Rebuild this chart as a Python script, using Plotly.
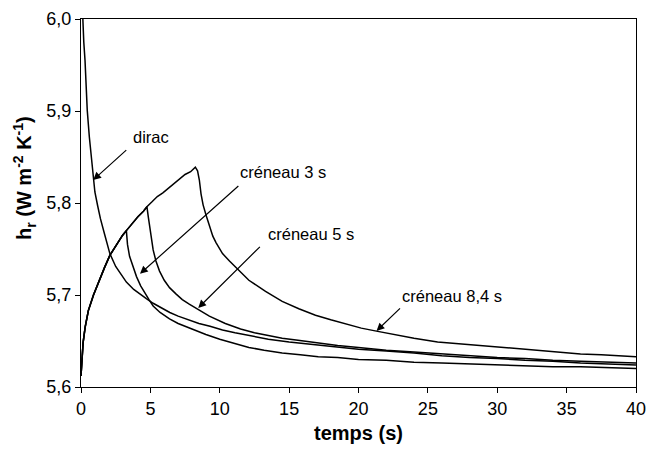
import plotly.graph_objects as go

# Shared heating ramp of the square pulses (time s, h_r W m-2 K-1)
RISE_T = [0.0, 0.05, 0.15, 0.3, 0.53, 0.9, 1.3, 1.7, 2.08, 2.6, 3.0, 3.27,
          3.7, 4.1, 4.5, 4.75, 5.1, 5.5, 5.9, 6.3, 6.7, 7.1, 7.5, 7.9, 8.24]
RISE_H = [5.612, 5.628, 5.648, 5.665, 5.683, 5.700, 5.716, 5.730, 5.743, 5.756, 5.765, 5.770,
          5.778, 5.785, 5.791, 5.796, 5.801, 5.807, 5.811, 5.816, 5.820, 5.825, 5.831, 5.834, 5.839]

# Dirac response
DIRAC_T = [0.0, 0.1, 0.2, 0.29, 0.45, 0.6, 0.75, 0.88, 1.0, 1.2, 1.4, 1.7, 2.08, 2.5, 3.0,
           3.27, 3.8, 4.3, 4.71, 5.2, 5.8, 6.4, 7.0, 7.7, 8.5, 9.3, 10.2, 11.1, 12.1, 13.5,
           15.0, 17.0, 18.5, 20.0, 22.0, 24.0, 26.0, 28.0, 30.0, 32.0, 34.0, 36.0, 38.0, 40.0]
DIRAC_H = [6.05, 6.00, 5.975, 5.955, 5.901, 5.872, 5.846, 5.825, 5.812, 5.797, 5.783, 5.766,
           5.745, 5.731, 5.719, 5.714, 5.706, 5.700, 5.696, 5.691, 5.686, 5.681, 5.677, 5.673,
           5.669, 5.666, 5.662, 5.659, 5.656, 5.652, 5.649, 5.646, 5.644, 5.641, 5.639, 5.637,
           5.634, 5.632, 5.631, 5.629, 5.628, 5.626, 5.625, 5.624]

# Cooling after a 3 s pulse
C3_T = [3.35, 3.5, 3.75, 4.0, 4.3, 4.6, 4.9, 5.2, 5.7, 6.38, 7.0, 8.0, 9.0, 10.0, 11.0, 12.1,
        13.2, 14.5, 15.8, 17.1, 18.5, 20.0, 22.0, 24.0, 26.0, 28.0, 30.0, 32.0, 34.0, 36.0,
        38.0, 40.0]
C3_H = [5.755, 5.742, 5.730, 5.720, 5.710, 5.702, 5.695, 5.688, 5.681, 5.674, 5.669, 5.663,
        5.657, 5.652, 5.648, 5.643, 5.640, 5.637, 5.635, 5.633, 5.632, 5.630, 5.629, 5.627,
        5.626, 5.625, 5.624, 5.623, 5.622, 5.622, 5.621, 5.620]

# Cooling after a 5 s pulse
C5_T = [4.85, 4.95, 5.07, 5.2, 5.4, 5.66, 6.0, 6.38, 6.86, 7.3, 7.8, 8.4, 9.25, 10.4, 11.5,
        12.5, 13.5, 14.5, 15.5, 17.0, 18.5, 20.0, 22.0, 24.0, 26.0, 28.0, 30.0, 32.0, 34.0,
        36.0, 38.0, 40.0]
C5_H = [5.785, 5.774, 5.760, 5.749, 5.737, 5.726, 5.716, 5.708, 5.701, 5.695, 5.690, 5.685,
        5.677, 5.669, 5.663, 5.659, 5.656, 5.653, 5.651, 5.648, 5.645, 5.643, 5.640, 5.638,
        5.636, 5.634, 5.632, 5.631, 5.629, 5.628, 5.627, 5.626]

# Cooling after an 8.4 s pulse
C84_T = [8.4, 8.53, 8.65, 8.8, 9.01, 9.25, 9.5, 9.73, 10.2, 10.7, 11.16, 12.1, 13.3, 14.5,
         15.7, 16.9, 18.0, 19.2, 20.2, 21.2, 22.5, 24.0, 25.7, 27.2, 28.7, 30.0, 31.5, 32.9,
         34.5, 36.0, 37.5, 39.0, 40.0]
C84_H = [5.835, 5.825, 5.810, 5.798, 5.787, 5.775, 5.764, 5.757, 5.745, 5.737, 5.730, 5.716,
         5.704, 5.693, 5.685, 5.678, 5.673, 5.668, 5.664, 5.661, 5.657, 5.653, 5.649, 5.647,
         5.645, 5.644, 5.642, 5.640, 5.638, 5.636, 5.635, 5.634, 5.633]

X_TICKS = [0, 5, 10, 15, 20, 25, 30, 35, 40]
Y_TICKS = [5.6, 5.7, 5.8, 5.9, 6.0]
Y_TICK_TEXT = ["5,6", "5,7", "5,8", "5,9", "6,0"]


def pulse(end_t, decay_t, decay_h):
    n = sum(1 for t in RISE_T if t <= end_t)
    return RISE_T[:n] + decay_t, RISE_H[:n] + decay_h


curves = [
    (DIRAC_T, DIRAC_H),
    pulse(3.27, C3_T, C3_H),
    pulse(4.75, C5_T, C5_H),
    pulse(8.24, C84_T, C84_H),
]

fig = go.Figure()
for xs, ys in curves:
    fig.add_trace(go.Scatter(x=xs, y=ys, mode="lines",
                             line=dict(color="black", width=1.5),
                             showlegend=False, hoverinfo="skip"))

FONT = "Liberation Sans, Arial, sans-serif"
PLOT_LEFT, PLOT_WIDTH = 81, 555

# Curve labels and their pointers: (text, text x, text y, anchor, arrow tail, arrow tip)
LABELS = [
    ("dirac", 5.07, 5.872, "center", (3.37, 5.859), (0.88, 5.825)),
    ("créneau 3 s", 11.3, 5.834, "left", (11.45, 5.820), (4.25, 5.723)),
    ("créneau 5 s", 13.35, 5.766, "left", (13.0, 5.754), (8.45, 5.686)),
    ("créneau 8,4 s", 23.0, 5.699, "left", (23.1, 5.687), (21.3, 5.661)),
]
for text, tx, ty, anchor, tail, tip in LABELS:
    fig.add_annotation(x=tx, y=ty, text=text, showarrow=False, xanchor=anchor,
                       yanchor="middle", font=dict(family=FONT, size=16.5, color="black"))
    fig.add_annotation(x=tip[0], y=tip[1], ax=tail[0], ay=tail[1], xref="x", yref="y",
                       axref="x", ayref="y", text="", showarrow=True, arrowhead=2,
                       arrowsize=1.3, arrowwidth=1.2, arrowcolor="black", standoff=0)

# Vertical axis title
fig.add_annotation(x=(25 - PLOT_LEFT) / PLOT_WIDTH, y=0.568, xref="paper", yref="paper",
                   xanchor="center", yanchor="middle", textangle=-90, showarrow=False,
                   text="<b>h<sub>r</sub> (W m<sup>-2</sup> K<sup>-1</sup>)</b>",
                   font=dict(family=FONT, size=20, color="black"))

fig.update_layout(
    width=647, height=456,
    margin=dict(l=PLOT_LEFT, r=647 - PLOT_LEFT - PLOT_WIDTH, t=19, b=69, autoexpand=False),
    plot_bgcolor="white", paper_bgcolor="white",
    font=dict(family=FONT, size=18, color="black"),
    xaxis=dict(range=[0, 40], tickvals=X_TICKS, ticks="outside", ticklen=5,
               tickcolor="black", showline=True, linecolor="black", linewidth=1.3,
               mirror=True, showgrid=False, zeroline=False, ticklabeloverflow="allow",
               automargin=False,
               title=dict(text="<b>temps (s)</b>", font=dict(family=FONT, size=20),
                          standoff=8)),
    yaxis=dict(range=[5.6, 6.0], tickvals=Y_TICKS, ticktext=Y_TICK_TEXT, ticks="outside",
               ticklen=5, tickcolor="black", showline=True, linecolor="black",
               linewidth=1.3, mirror=True, showgrid=False, zeroline=False,
               automargin=False),
)

fig.write_html("out.html")
